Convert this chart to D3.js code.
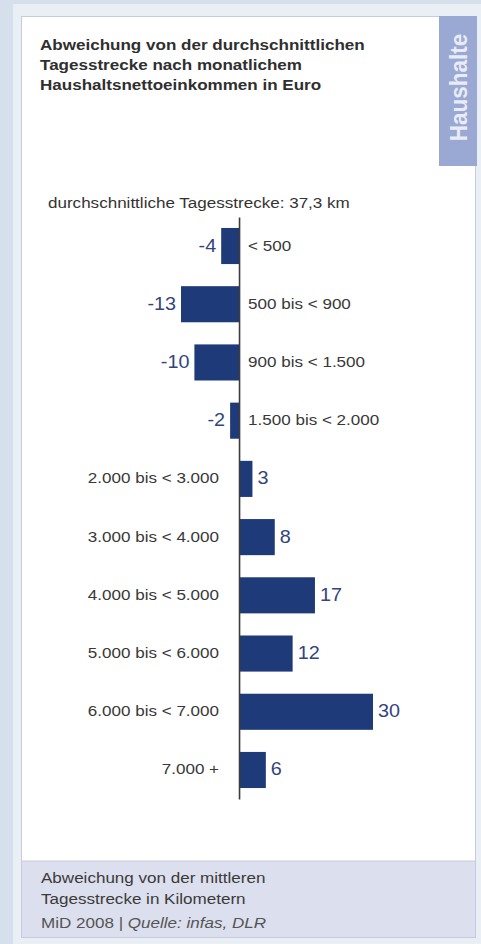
<!DOCTYPE html>
<html lang="de">
<head>
<meta charset="utf-8">
<title>Abweichung von der durchschnittlichen Tagesstrecke</title>
<script src="https://cdn.jsdelivr.net/npm/d3@7/dist/d3.min.js"></script>
<style>
  html, body { margin: 0; padding: 0; background: #d5e0ec; }
  svg { display: block; font-family: "Liberation Sans", Arial, Helvetica, sans-serif; }
</style>
</head>
<body>
<svg id="chart" width="481" height="944"></svg>
<script>
// Monthly net household income classes (Euro)
const categories = [
  "< 500",
  "500 bis < 900",
  "900 bis < 1.500",
  "1.500 bis < 2.000",
  "2.000 bis < 3.000",
  "3.000 bis < 4.000",
  "4.000 bis < 5.000",
  "5.000 bis < 6.000",
  "6.000 bis < 7.000",
  "7.000 +"
];
// Deviation from the mean daily distance (km)
const deviations = [-4, -13, -10, -2, 3, 8, 17, 12, 30, 6];

const titleLines = [
  "Abweichung von der durchschnittlichen",
  "Tagesstrecke nach monatlichem",
  "Haushaltsnettoeinkommen in Euro"
];
const subtitle = "durchschnittliche Tagesstrecke: 37,3 km";
const footerLines = [
  "Abweichung von der mittleren",
  "Tagesstrecke in Kilometern"
];
const tabLabel = "Haushalte";

const svg = d3.select("#chart");
const SX = 1.1; // horizontal widening of the typeface

function text(parent, x, y, str, opts = {}) {
  return parent.append("text")
    .attr("transform", `translate(${x},${y}) scale(${SX},1)`)
    .attr("text-anchor", opts.anchor || "start")
    .attr("font-size", opts.size || 15.5)
    .attr("font-weight", opts.weight || "normal")
    .attr("fill", opts.fill || "#3a3a3a")
    .text(str);
}

// Page frame
svg.append("rect").attr("x", 13).attr("y", 4).attr("width", 468).attr("height", 940)
  .attr("fill", "#eaeff5");

// Card
svg.append("rect").attr("x", 21.5).attr("y", 16.5).attr("width", 454).attr("height", 921)
  .attr("fill", "#ffffff").attr("stroke", "#c6ccde").attr("stroke-width", 1);

// Footer band
svg.append("rect").attr("x", 21.5).attr("y", 861).attr("width", 454).attr("height", 76.5)
  .attr("fill", "#dcdfee").attr("stroke", "#c6ccde").attr("stroke-width", 1);

// Side tab
svg.append("rect").attr("x", 439).attr("y", 16).attr("width", 38).attr("height", 150)
  .attr("fill", "#9aa9d3");
svg.append("text")
  .attr("transform", "translate(467,87.5) rotate(-90) scale(1,1.1)")
  .attr("text-anchor", "middle")
  .attr("font-size", 22.5)
  .attr("font-weight", "bold")
  .attr("fill", "#e9ecf6")
  .text(tabLabel);

// Title
titleLines.forEach((t, i) => {
  text(svg, 40, 50 + i * 20, t, { weight: "bold", size: 15.5, fill: "#2f2f2f" });
});

// Subtitle
text(svg, 48, 208, subtitle, { fill: "#333333" });

// Scales
const x = d3.scaleLinear().domain([-13, 30]).range([181, 373]);
const y = d3.scaleBand().domain(categories).range([216.9, 799.1])
  .paddingInner(0.38).paddingOuter(0.19);

const plot = svg.append("g");

// Bars
plot.selectAll("rect.bar")
  .data(deviations)
  .join("rect")
  .attr("class", "bar")
  .attr("x", d => x(Math.min(0, d)))
  .attr("y", (d, i) => y(categories[i]))
  .attr("width", d => Math.abs(x(d) - x(0)))
  .attr("height", y.bandwidth())
  .attr("fill", "#1e3a78");

// Zero axis
const axis = d3.axisRight(y).tickSize(0).tickSizeOuter(0).tickFormat("");
const axisG = plot.append("g")
  .attr("transform", `translate(${x(0)},0)`)
  .call(axis);
axisG.select(".domain").attr("stroke", "#3c3c3c").attr("stroke-width", 1.6);

// Value labels
deviations.forEach((d, i) => {
  const cy = y(categories[i]) + y.bandwidth() / 2;
  const neg = d < 0;
  text(plot, neg ? x(d) - 5 : x(d) + 5, cy - 1 + 6.5, String(d), {
    anchor: neg ? "end" : "start", size: 18, fill: "#33447c"
  });
});

// Category labels on the opposite side of the axis
deviations.forEach((d, i) => {
  const cy = y(categories[i]) + y.bandwidth() / 2;
  const neg = d < 0;
  text(plot, neg ? x(0) + 9 : x(0) - 20, cy - 1 + 5.5, categories[i], {
    anchor: neg ? "start" : "end", size: 15.5, fill: "#383838"
  });
});

// Footer text
footerLines.forEach((t, i) => {
  text(svg, 41, 883 + i * 21, t, { fill: "#3a3a3a" });
});
const src = svg.append("text")
  .attr("transform", `translate(41,928) scale(${SX},1)`)
  .attr("font-size", 15.5)
  .attr("fill", "#555555");
src.append("tspan").text("MiD 2008 | ");
src.append("tspan").attr("font-style", "italic").text("Quelle: infas, DLR");
</script>
</body>
</html>
